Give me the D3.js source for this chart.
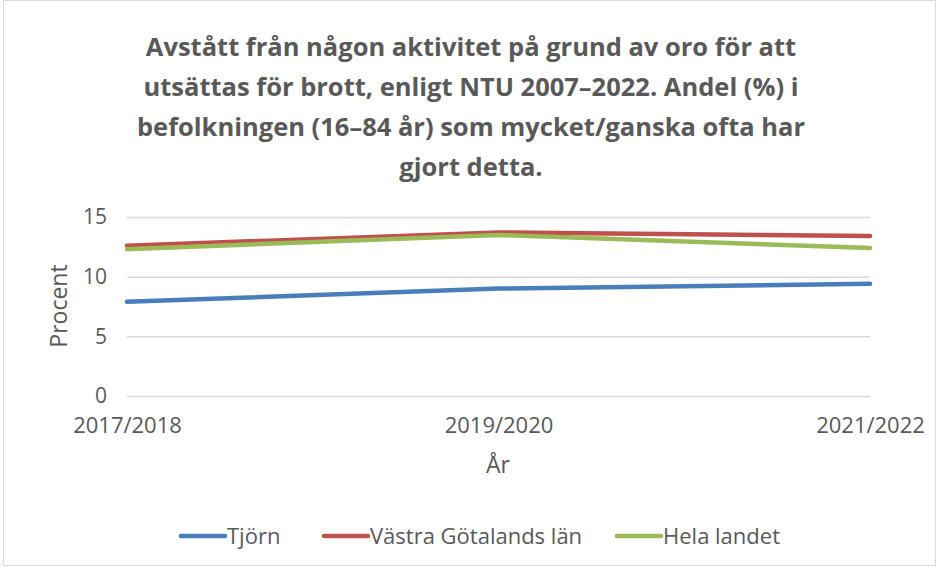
<!DOCTYPE html>
<html>
<head>
<meta charset="utf-8">
<script src="https://cdn.jsdelivr.net/npm/d3@7"></script>
<style>
    body { margin: 0; background: #fff; }
    text { font-family: "Open Sans", sans-serif; fill: #595959; }
</style>
</head>
<body>
<div id="main"></div>
<script>

const w = 940;
const h = 570;
const margin = {left: 127, right: 70, top: 217, bottom: 174};

const years = ["2017/2018","2019/2020","2021/2022"];
const series = [
    {name: "Tjörn", color: "#4a7ebb", values: [7.9, 9.0, 9.4]},
    {name: "Västra Götalands län", color: "#c0504d", values: [12.6, 13.7, 13.4]},
    {name: "Hela landet", color: "#9bbb59", values: [12.3, 13.5, 12.4]}
];

const titleLines = ["Avstått från någon aktivitet på grund av oro för att",
    "utsättas för brott, enligt NTU 2007–2022. Andel (%) i",
    "befolkningen (16–84 år) som mycket/ganska ofta har",
    "gjort detta."];

const svg = d3.select("#main").append("svg").attr("width", w).attr("height", h);

// chart border
svg.append("rect")
    .attr("x", 3.5).attr("y", 0.5)
    .attr("width", w - 8).attr("height", h - 5)
    .attr("fill", "none")
    .attr("stroke", "#d9d9d9");

const xScale = d3.scalePoint()
    .domain(years)
    .range([margin.left, w - margin.right]);

const yScale = d3.scaleLinear()
    .domain([0, 15])
    .range([h - margin.bottom, margin.top]);

// title
svg.append("g").selectAll("text")
    .data(titleLines)
    .enter()
    .append("text")
    .attr("x", 471)
    .attr("y", (d, i) => 56 + i * 40)
    .style("text-anchor", "middle")
    .style("font-size", "25.5px")
    .style("font-weight", "bold")
    .text(d => d);

// gridlines
const yAxis = d3.axisLeft(yScale)
    .tickValues([0, 5, 10, 15])
    .tickSize(-(w - margin.left - margin.right))
    .tickPadding(20);

const gy = svg.append("g")
    .attr("transform", "translate(" + margin.left + ",0)")
    .call(yAxis);
gy.select(".domain").remove();
gy.selectAll(".tick line").attr("stroke", "#d9d9d9").attr("stroke-width", 1.5);
gy.selectAll(".tick text").style("font-size", "21px").style("font-family", "Open Sans").attr("fill", "#595959");

const xAxis = d3.axisBottom(xScale).tickSize(0).tickPadding(21);
const gx = svg.append("g")
    .attr("transform", "translate(0," + (h - margin.bottom) + ")")
    .call(xAxis);
gx.select(".domain").remove();
gx.selectAll(".tick text").style("font-size", "22px").style("font-family", "Open Sans").attr("fill", "#595959");

// lines
const line = d3.line()
    .x((d, i) => xScale(years[i]))
    .y(d => yScale(d));

svg.selectAll(".series")
    .data(series)
    .enter()
    .append("path")
    .attr("class", "series")
    .attr("d", d => line(d.values))
    .attr("fill", "none")
    .attr("stroke", d => d.color)
    .attr("stroke-width", 4.5)
    .attr("stroke-linecap", "round");

// axis titles
svg.append("text")
    .attr("transform", "translate(67," + 306 + ") rotate(-90)")
    .style("text-anchor", "middle")
    .style("font-size", "23px")
    .text("Procent");

svg.append("text")
    .attr("x", 498)
    .attr("y", 473)
    .style("text-anchor", "middle")
    .style("font-size", "23px")
    .text("År");

// legend
const legendX = [181, 324, 617];
const legend = svg.selectAll(".legend")
    .data(series)
    .enter()
    .append("g")
    .attr("class", "legend")
    .attr("transform", (d, i) => "translate(" + legendX[i] + ",536)");

legend.append("line")
    .attr("x1", 0).attr("x2", 44)
    .attr("y1", 0).attr("y2", 0)
    .attr("stroke", d => d.color)
    .attr("stroke-width", 4.5)
    .attr("stroke-linecap", "round");

legend.append("text")
    .attr("x", 46)
    .attr("y", 8)
    .style("font-size", "22px")
    .text(d => d.name);

</script>
</body>
</html>
